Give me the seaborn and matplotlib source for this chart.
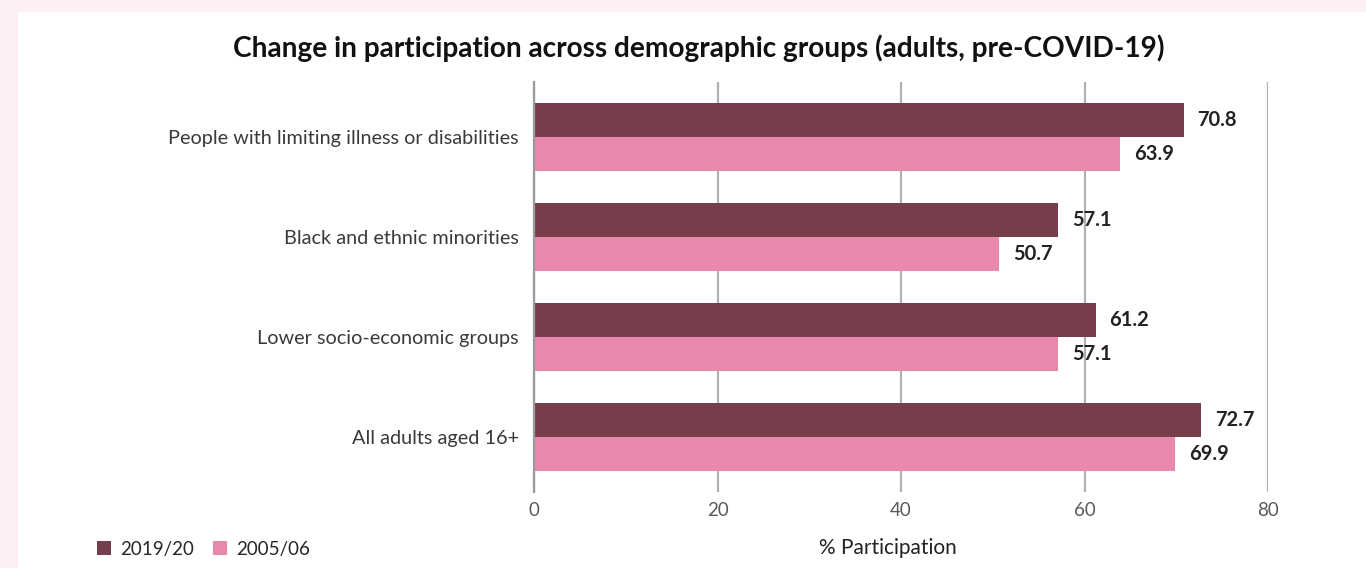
import matplotlib
matplotlib.use("Agg")
import matplotlib.pyplot as plt
import matplotlib.patches as mpatches
import seaborn as sns
import pandas as pd

categories = [
    "People with limiting illness or disabilities",
    "Black and ethnic minorities",
    "Lower socio-economic groups",
    "All adults aged 16+",
]
series_names = ["2019/20", "2005/06"]
values_2019 = [70.8, 57.1, 61.2, 72.7]
values_2005 = [63.9, 50.7, 57.1, 69.9]
x_ticks = [0, 20, 40, 60, 80]

colors = {"2019/20": "#763e4a", "2005/06": "#e888ad"}

df = pd.DataFrame({
    "group": categories * 2,
    "period": [series_names[0]] * len(categories) + [series_names[1]] * len(categories),
    "value": values_2019 + values_2005,
})

sns.set_theme(style="white")
plt.rcParams["font.family"] = ["Lato", "DejaVu Sans"]

fig = plt.figure(figsize=(13.66, 5.68), dpi=100, facecolor="#fdeff4")
# white card inside the pink frame
fig.patches.append(mpatches.Rectangle((18 / 1366, 0), 1 - 18 / 1366, 1 - 12 / 568,
                                      transform=fig.transFigure, facecolor="white",
                                      edgecolor="none", zorder=-10))

ax = fig.add_axes([534 / 1366, 1 - 492 / 568, 734 / 1366, 410 / 568])
ax.set_zorder(2)
ax.set_facecolor("white")

sns.barplot(data=df, y="group", x="value", hue="period", orient="h",
            palette=colors, width=0.68, saturation=1, ax=ax, legend=True,
            edgecolor="none", zorder=3)

ax.set_xlim(0, 80)
ax.set_ylim(3.55, -0.55)
ax.set_xticks(x_ticks)
ax.set_xticklabels([str(t) for t in x_ticks])
ax.grid(axis="x", color="#b0b0b0", linewidth=1.6, zorder=0)
ax.grid(axis="y", visible=False)
for side in ["top", "right", "bottom"]:
    ax.spines[side].set_visible(False)
ax.spines["left"].set_color("#9a9a9a")
ax.spines["left"].set_linewidth(1.6)
ax.spines["left"].set_zorder(4)

ax.tick_params(axis="x", length=0, pad=7, labelsize=13.5, labelcolor="#5a5a5a")
ax.tick_params(axis="y", length=0, pad=11, labelsize=14.3, labelcolor="#3a3a3a")
ax.set_ylabel("")
ax.set_xlabel("% Participation", fontsize=15, color="#222222")
ax.xaxis.set_label_coords((888 - 534) / 734, -(548 - 492) / 410)
ax.xaxis.label.set_verticalalignment("center")

for container in ax.containers:
    ax.bar_label(container, fmt="%.1f", padding=10, fontsize=14.5,
                 fontweight="bold", color="#222222")

sns.move_legend(ax, "center left", bbox_to_anchor=(97 / 1366, 1 - 549 / 568),
                bbox_transform=fig.transFigure, ncol=2, frameon=False, title=None,
                fontsize=13.5, handlelength=0.75, handleheight=0.75,
                handletextpad=0.5, columnspacing=1.0, borderaxespad=0, borderpad=0)

fig.text(699 / 1366, 1 - 48 / 568,
         "Change in participation across demographic groups (adults, pre-COVID-19)",
         ha="center", va="center", fontsize=20.2, fontweight="bold", color="#111111")

fig.savefig("out.png", dpi=100, facecolor=fig.get_facecolor())
